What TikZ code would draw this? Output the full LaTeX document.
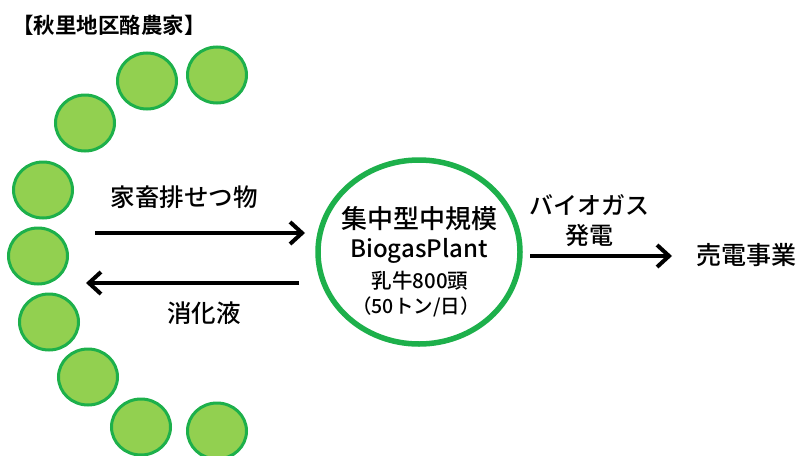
\documentclass[tikz,border=0pt]{standalone}
\usepackage{fontspec}
\setmainfont{Noto Sans CJK JP Medium}
\newfontfamily\jpbold{Noto Sans CJK JP Bold}
\usetikzlibrary{shapes.geometric,arrows.meta}
\definecolor{farmfill}{HTML}{92D050}
\definecolor{farmline}{HTML}{1DB04B}
\tikzset{
  farm/.style={ellipse, draw=farmline, fill=farmfill, line width=3pt, minimum width=59pt, minimum height=56pt, inner sep=0pt},
  plant/.style={ellipse, draw=farmline, line width=5.5pt, minimum width=202pt, minimum height=184pt, inner sep=0pt},
  lbl/.style={inner sep=0pt, text=black, font=\fontsize{24.5}{26}\selectfont},
  flow/.style={line width=4pt, -{Straight Barb[length=12pt,width=22pt,line width=4pt]}}
}
\begin{document}
\begin{tikzpicture}[x=1pt,y=-1pt]
\useasboundingbox[fill=white] (0,0) rectangle (799,455);
\node[inner sep=0pt, anchor=west, font=\jpbold\fontsize{21.5}{23}\selectfont] (title) at (12,25) {【秋里地区酪農家】};
% farms
\node[farm] (f1) at (217,75) {};
\node[farm] (f2) at (147,81) {};
\node[farm] (f3) at (85,123) {};
\node[farm] (f4) at (43,190) {};
\node[farm] (f5) at (38,256) {};
\node[farm] (f6) at (49,322) {};
\node[farm] (f7) at (88,377) {};
\node[farm] (f8) at (141,427) {};
\node[farm] (f9) at (217,431) {};
% plant
\node[plant] (plant) at (419,252) {};
\node[lbl, font=\fontsize{26}{28}\selectfont] (p1) at (419,219) {集中型中規模};
\node[lbl, font=\fontsize{24}{26}\selectfont] (p2) at (419,251) {BiogasPlant};
\node[lbl, font=\fontsize{20.5}{22}\selectfont] (p3) at (420,281) {乳牛800頭};
\node[lbl, font=\fontsize{19.5}{21}\selectfont] (p4) at (416,307) {（50トン/日）};
% labels
\node[lbl] (l1) at (184,197) {家畜排せつ物};
\node[lbl] (l2) at (204,313) {消化液};
\node[lbl, font=\fontsize{24}{26}\selectfont] (l3) at (589,205) {バイオガス};
\node[lbl, font=\fontsize{24}{26}\selectfont] (l4) at (589,235) {発電};
\node[lbl, font=\fontsize{25}{27}\selectfont] (sale) at (746,255) {売電事業};
% arrow ends
\coordinate (a1s) at (95,233);
\coordinate (a1e) at (305,233);
\coordinate (a2s) at (299,283);
\coordinate (a2e) at (86,283);
\coordinate (a3s) at (530,256);
\coordinate (a3e) at (672,256);
\draw[flow] (a1s) -- (a1e);
\draw[flow] (a2s) -- (a2e);
\draw[flow] (a3s) -- (a3e);
\end{tikzpicture}
\end{document}
